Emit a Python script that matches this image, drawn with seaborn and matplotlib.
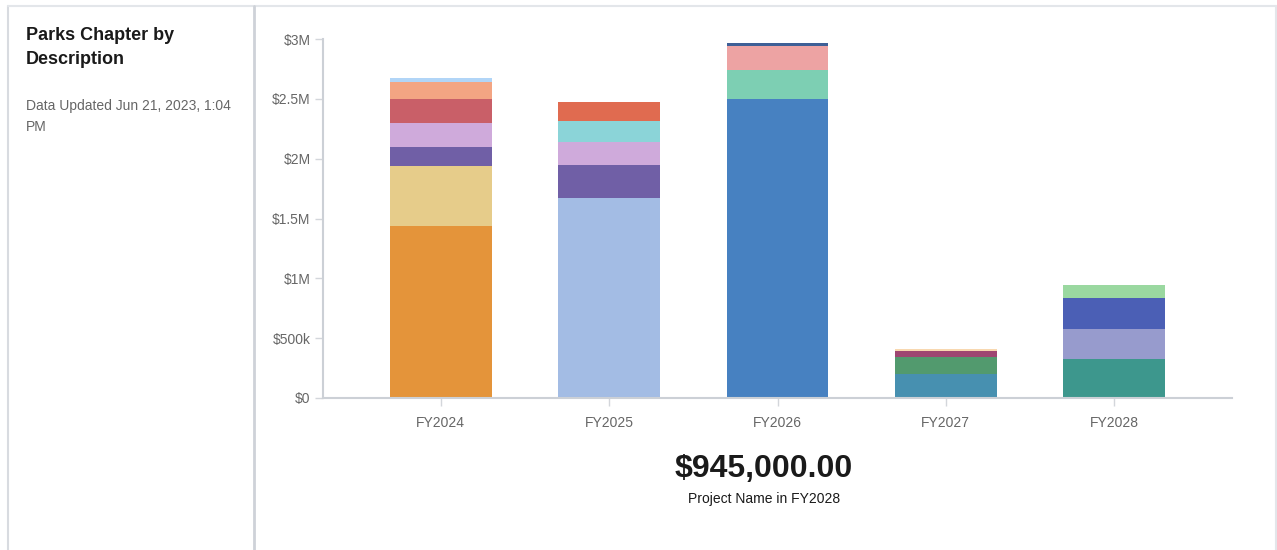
import matplotlib
matplotlib.use("Agg")
import matplotlib.pyplot as plt
from matplotlib.lines import Line2D
import seaborn as sns

# data (dollars, bottom segment first)
years = ["FY2024", "FY2025", "FY2026", "FY2027", "FY2028"]
fy2024 = [1440000, 500000, 160000, 200000, 200000, 140000, 33000]
fy2025 = [1670000, 276000, 190000, 180000, 160000]
fy2026 = [2500000, 240000, 200000, 25000]
fy2027 = [200000, 140000, 50000, 17000]
fy2028 = [325000, 250000, 260000, 110000]

colors2024 = ["#E4943A", "#E6CC8A", "#705FA6", "#CFAADB", "#C95F68", "#F3A583", "#B1D5F7"]
colors2025 = ["#A3BCE4", "#705FA6", "#CFAADB", "#8BD4D8", "#E06B50"]
colors2026 = ["#4781C1", "#7DCFB3", "#EDA3A3", "#3E5F96"]
colors2027 = ["#4790B0", "#529A6E", "#9E4671", "#F8D8B0"]
colors2028 = ["#3D978D", "#979BCD", "#4B5FB5", "#9AD8A0"]

ytick_vals = [0, 500000, 1000000, 1500000, 2000000, 2500000, 3000000]
ytick_labels = ["$0", "$500k", "$1M", "$1.5M", "$2M", "$2.5M", "$3M"]

title = "Parks Chapter by\nDescription"
updated = "Data Updated Jun 21, 2023, 1:04\nPM"
big_value = "$945,000.00"
big_caption = "Project Name in FY2028"

sns.set_style("white")
plt.rcParams["font.family"] = ["Liberation Sans", "DejaVu Sans"]

fig = plt.figure(figsize=(12.77, 5.5), dpi=100)
W, H = 1277, 550
ax = fig.add_axes([323 / W, 1 - 398 / H, (1232 - 323) / W, (398 - 39) / H])

stacks = [fy2024, fy2025, fy2026, fy2027, fy2028]
palettes = [colors2024, colors2025, colors2026, colors2027, colors2028]
for yr, vals, cols in zip(years, stacks, palettes):
    bottom = 0
    for v, c in zip(vals, cols):
        sns.barplot(x=[yr], y=[v], order=years, color=c, saturation=1,
                    width=0.605, bottom=bottom, linewidth=0, ax=ax)
        bottom += v

ax.set_xlim(-0.70, 4.70)
ax.set_ylim(0, 3000000)
ax.set_yticks(ytick_vals)
ax.set_yticklabels(ytick_labels)
ax.set_xlabel("")
ax.set_ylabel("")
ax.tick_params(axis="both", bottom=True, left=True, labelcolor="#666666",
               color="#D3D6DB", labelsize=10, length=6, width=1, direction="out")
ax.tick_params(axis="x", pad=7)
ax.tick_params(axis="y", pad=3)
for s in ["top", "right"]:
    ax.spines[s].set_visible(False)
for s in ["left", "bottom"]:
    ax.spines[s].set_color("#CCD0D6")
    ax.spines[s].set_linewidth(1.5)

# card borders
fig.add_artist(Line2D([8 / W, 8 / W], [0, 1 - 6 / H], color="#D8DBE0", lw=1.5))
fig.add_artist(Line2D([8 / W, 1276 / W], [1 - 6 / H, 1 - 6 / H], color="#E3E6EA", lw=1.5))
fig.add_artist(Line2D([1276 / W, 1276 / W], [0, 1 - 6 / H], color="#E3E6EA", lw=1.5))
fig.add_artist(Line2D([254 / W, 254 / W], [0, 1 - 6 / H], color="#CED2D8", lw=2))

fig.text(26 / W, 1 - 27 / H, title, ha="left", va="top", fontsize=13,
         fontweight="bold", color="#1a1a1a", linespacing=1.55)
fig.text(26 / W, 1 - 99 / H, updated, ha="left", va="top", fontsize=10,
         color="#666666", linespacing=1.65)

fig.text(764 / W, 1 - 469 / H, big_value, ha="center", va="center", fontsize=23,
         fontweight="bold", color="#1a1a1a")
fig.text(764 / W, 1 - 499 / H, big_caption, ha="center", va="center", fontsize=10,
         color="#1a1a1a")

fig.savefig("out.png", dpi=100, facecolor="white")
